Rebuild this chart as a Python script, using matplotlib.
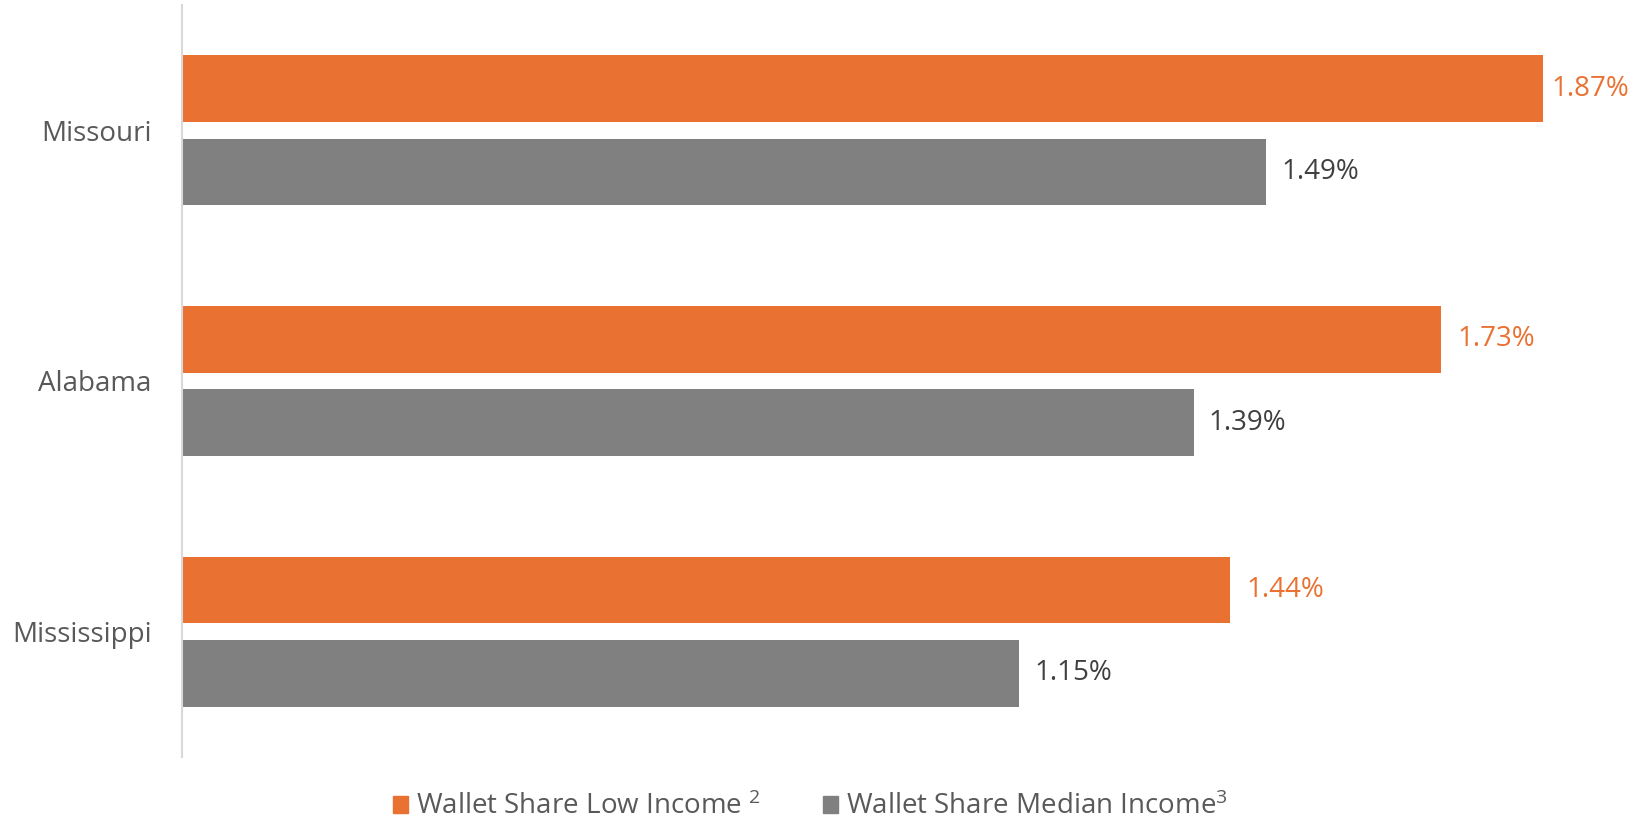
import numpy as np
import matplotlib
matplotlib.use("Agg")
import matplotlib.pyplot as plt
from matplotlib.patches import Patch

# Data
states = ["Missouri", "Alabama", "Mississippi"]
low_income = [1.87, 1.73, 1.44]
median_income = [1.49, 1.39, 1.15]
series_names = ["Wallet Share Low Income $^{2}$", "Wallet Share Median Income$^{3}$"]

plt.rcParams['font.family'] = ['Open Sans', 'DejaVu Sans']
plt.rcParams['mathtext.fontset'] = 'custom'
plt.rcParams['mathtext.rm'] = 'Open Sans'
plt.rcParams['mathtext.it'] = 'Open Sans'
plt.rcParams['mathtext.bf'] = 'Open Sans'

orange = '#E97132'
grey = '#808080'
label_grey = '#595959'

fig = plt.figure(figsize=(16.44, 8.21), dpi=100)
ax = fig.add_axes([0.1107, 0.078, 0.8854, 0.916])

y = np.arange(len(states))
h = 0.266
off = 0.1665

ax.barh(y - off, low_income, height=h, color=orange)
ax.barh(y + off, median_income, height=h, color=grey)

# value labels (the longest one sits a bit closer to its bar, as in the original)
for yi, v in zip(y - off, low_income):
    pad = 6 if v == max(low_income) else 12
    ax.annotate(f"{v:.2f}%", (v, yi), xytext=(pad, 0), textcoords='offset points',
                va='center', ha='left', fontsize=20, color=orange)
for yi, v in zip(y + off, median_income):
    ax.annotate(f"{v:.2f}%", (v, yi), xytext=(11, 0), textcoords='offset points',
                va='center', ha='left', fontsize=20, color='#404040')

ax.set_xlim(0, 2.0)
ax.set_ylim(2.5, -0.5)
ax.set_yticks(y)
ax.set_yticklabels(states, fontsize=20, color=label_grey)
ax.tick_params(axis='y', length=0, pad=22)
ax.set_xticks([])

for s in ['top', 'right', 'bottom']:
    ax.spines[s].set_visible(False)
ax.spines['left'].set_color('#D9D9D9')
ax.spines['left'].set_linewidth(1.5)

handles = [Patch(color=orange), Patch(color=grey)]
fig.legend(handles, series_names, loc='center', bbox_to_anchor=(0.493, 0.017), ncol=2,
           frameon=False, fontsize=20, labelcolor=label_grey, handlelength=0.55,
           handleheight=0.55, handletextpad=0.3, columnspacing=2.2,
           borderpad=0, borderaxespad=0)

fig.savefig("out.png", dpi=100)
